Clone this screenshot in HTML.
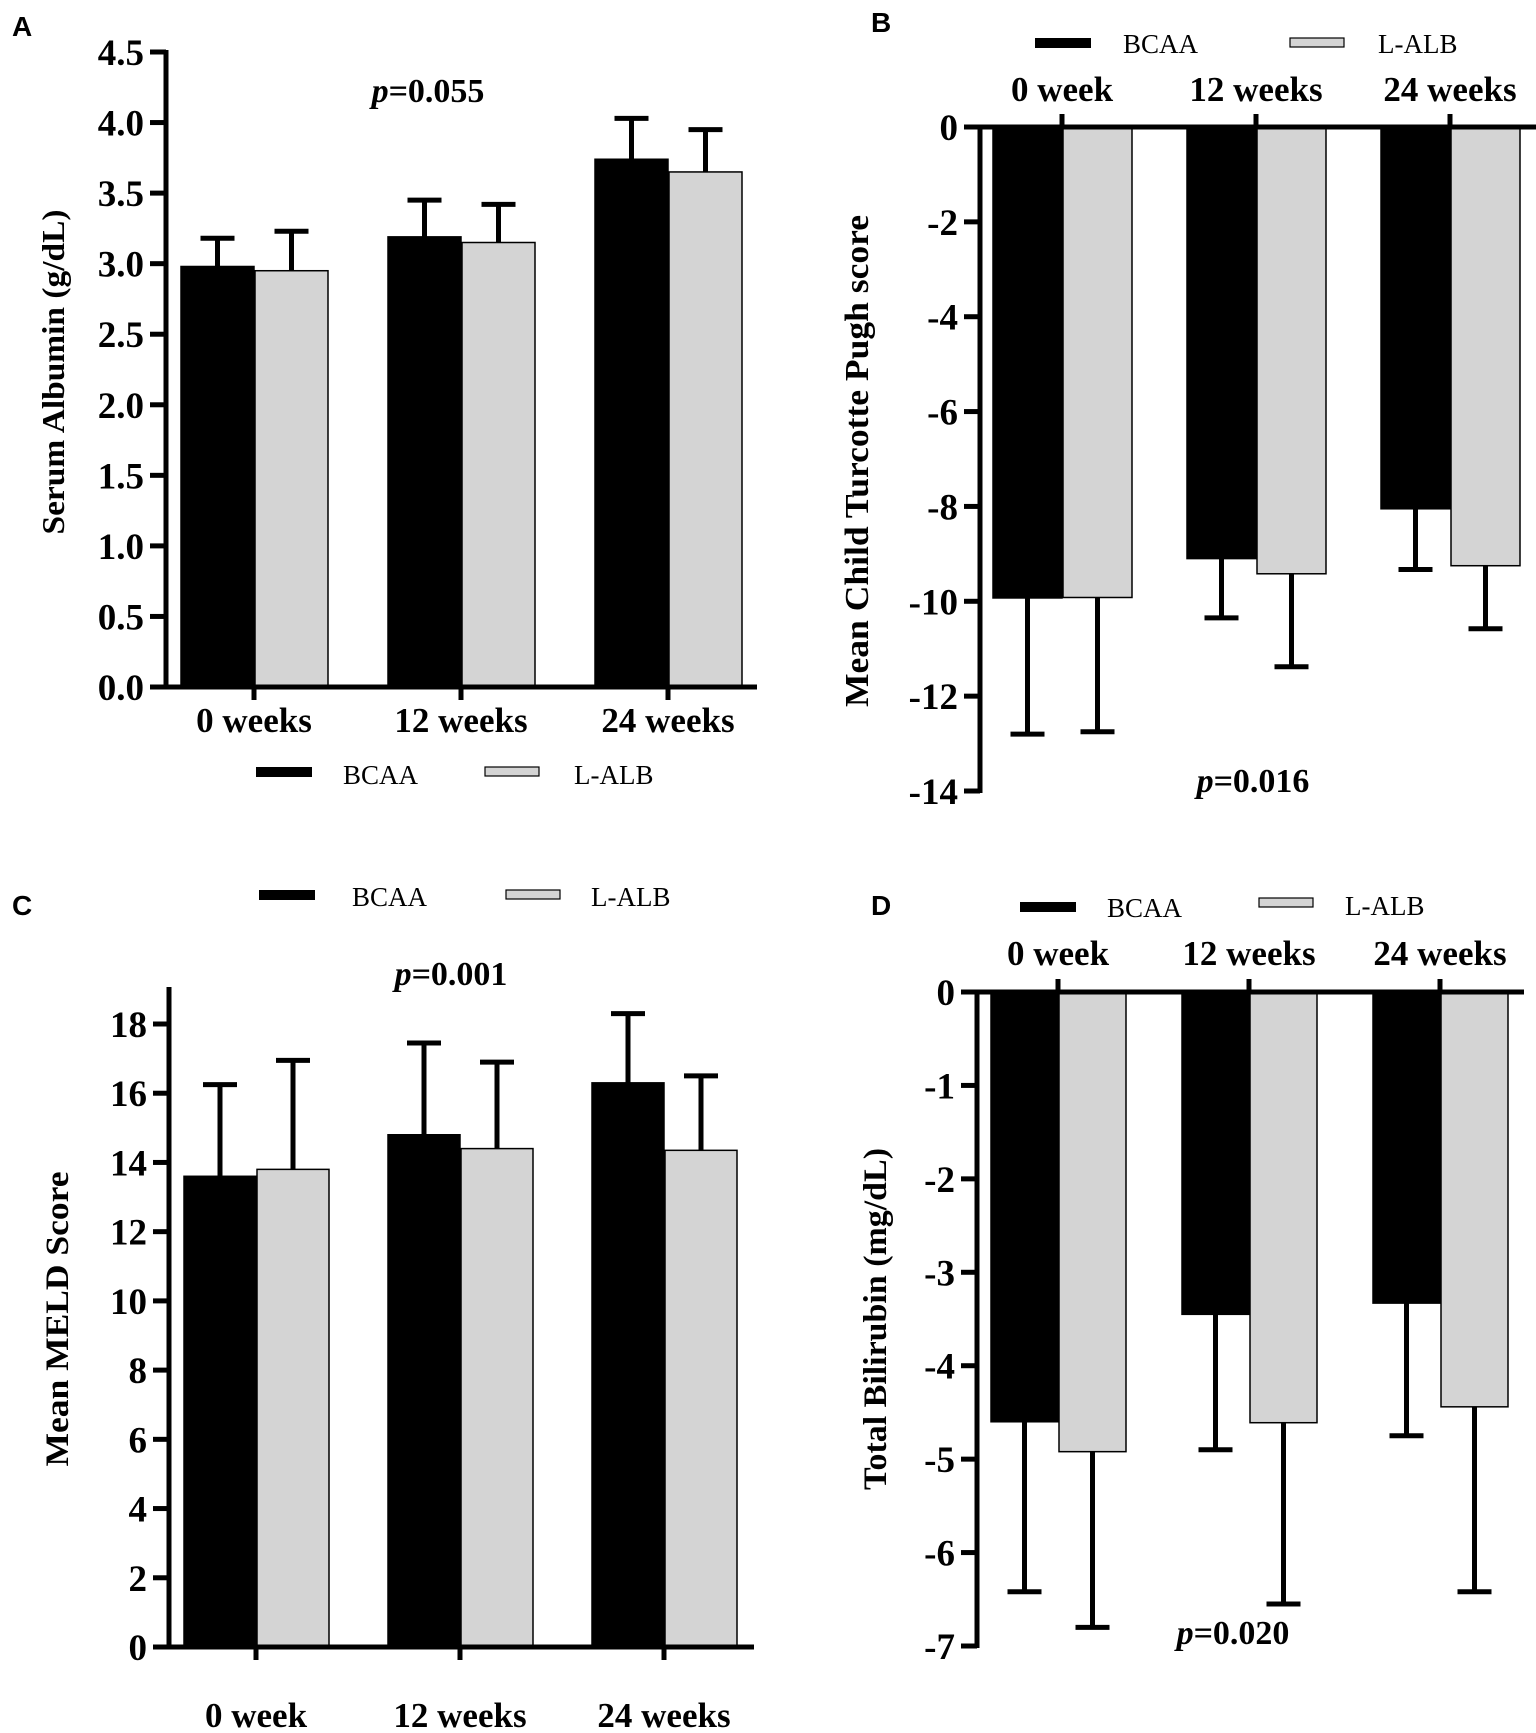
<!DOCTYPE html>
<html><head><meta charset="utf-8">
<style>
html,body{margin:0;padding:0;background:#fff;}
svg{display:block;}
text{font-family:"Liberation Serif",serif;}
.tk{font-size:37px;font-weight:bold;}
.cat{font-size:35px;font-weight:bold;}
.ttl{font-weight:bold;}
.pv{font-size:34px;font-weight:bold;}
.lg{font-size:27px;}
.pl{font-family:"Liberation Sans",sans-serif;font-size:28px;font-weight:bold;}
</style></head>
<body>
<svg id="fig" width="1536" height="1733" viewBox="0 0 1536 1733" xmlns="http://www.w3.org/2000/svg"></svg>
<script>
// ---- data ----
const categoriesA = ["0 weeks","12 weeks","24 weeks"];
const bcaaA = [2.98, 3.19, 3.74];
const bcaaErrA = [3.18, 3.45, 4.03];
const lalbA = [2.95, 3.15, 3.65];
const lalbErrA = [3.23, 3.42, 3.95];
const ticksA = [0,0.5,1,1.5,2,2.5,3,3.5,4,4.5];
const tickLabelsA = ["0.0","0.5","1.0","1.5","2.0","2.5","3.0","3.5","4.0","4.5"];

const categoriesB = ["0 week","12 weeks","24 weeks"];
const bcaaB = [-9.93, -9.1, -8.05];
const bcaaErrB = [-12.8, -10.35, -9.33];
const lalbB = [-9.92, -9.42, -9.25];
const lalbErrB = [-12.75, -11.38, -10.58];
const ticksB = [0,-2,-4,-6,-8,-10,-12,-14];
const tickLabelsB = ["0","-2","-4","-6","-8","-10","-12","-14"];

const categoriesC = ["0 week","12 weeks","24 weeks"];
const bcaaC = [13.6, 14.8, 16.3];
const bcaaErrC = [16.25, 17.45, 18.3];
const lalbC = [13.8, 14.4, 14.35];
const lalbErrC = [16.95, 16.9, 16.5];
const ticksC = [0,2,4,6,8,10,12,14,16,18];
const tickLabelsC = ["0","2","4","6","8","10","12","14","16","18"];

const categoriesD = ["0 week","12 weeks","24 weeks"];
const bcaaD = [-4.6, -3.45, -3.33];
const bcaaErrD = [-6.42, -4.9, -4.75];
const lalbD = [-4.92, -4.61, -4.44];
const lalbErrD = [-6.8, -6.55, -6.42];
const ticksD = [0,-1,-2,-3,-4,-5,-6,-7];
const tickLabelsD = ["0","-1","-2","-3","-4","-5","-6","-7"];

const NS = "http://www.w3.org/2000/svg";
const svg = document.getElementById('fig');
function mk(tag, attrs, parent, txt){
  const e = document.createElementNS(NS, tag);
  for (const k in attrs) e.setAttribute(k, attrs[k]);
  if (txt !== undefined) e.textContent = txt;
  (parent||svg).appendChild(e);
  return e;
}

function panel(p){
  const g = mk('g', {});
  
  
  const y = v => p.y0 + (v - p.v0) * (p.y1 - p.y0) / (p.v1 - p.v0);
  const xc = i => p.xc0 + i * p.step;
  p.cats.forEach((c,i)=>{
    const xb = xc(i);
    const series = [[p.bcaa,p.bcaaErr,'#000','bcaa',xb-p.bw],[p.lalb,p.lalbErr,'#d4d4d4','lalb',xb+1]];
    series.forEach(s=>{
      const v = s[0][i], ev = s[1][i];
      const top = Math.min(y(0), y(v)), h = Math.abs(y(v)-y(0));
      const cx = s[4] + p.bw/2;
      const el = mk('line', {x1:cx, x2:cx, y1:y(v), y2:y(ev), stroke:'#000','stroke-width':5}, g);
      
      
      const cap = mk('line', {x1:cx-17, x2:cx+17, y1:y(ev), y2:y(ev), stroke:'#000','stroke-width':5}, g);
      
      
      const r = mk('rect', {x:s[4], y:top, width:p.bw, height:h, fill:s[2], stroke:'#000','stroke-width':1.5}, g);
      
      
    });
  });
  const ya = mk('line', {x1:p.ax, x2:p.ax, y1:p.axTop, y2:p.axBot, stroke:'#000','stroke-width':5}, g);
  
  
  const xa = mk('line', {x1:p.xaL, x2:p.xaR, y1:y(0), y2:y(0), stroke:'#000','stroke-width':5}, g);
  
  
  p.ticks.forEach((t,i)=>{
    mk('line', {x1:p.ax-16, x2:p.ax, y1:y(t), y2:y(t), stroke:'#000','stroke-width':5}, g);
    const tl = mk('text', {x:p.ax-22, y:y(t)+13, 'text-anchor':'end', class:'tk'}, g, p.tickLabels[i]);
    
    
  });
  p.cats.forEach((c,i)=>{
    mk('line', {x1:xc(i), x2:xc(i), y1:y(0), y2:y(0)+p.tickDir*13, stroke:'#000','stroke-width':5}, g);
    const cl = mk('text', {x:xc(i), y:p.catY, 'text-anchor':'middle', class:'cat'}, g, c);
    
    
  });
  const tt = mk('text', {x:0, y:0, 'text-anchor':'middle', class:'ttl', 'font-size':p.tsize,
    transform:'translate(' + p.tx + ',' + p.ty + ') rotate(-90)', textLength:p.tlen, lengthAdjust:'spacingAndGlyphs'}, g, p.title);
  
  
  const pv = mk('text', {x:p.px, y:p.py, 'text-anchor':'middle', class:'pv'}, g);
  
  
  mk('tspan', {'font-style':'italic'}, pv, 'p');
  mk('tspan', {}, pv, '=' + p.pval);
  const pl = mk('text', {x:p.lx, y:p.ly, class:'pl'}, g, p.letter);
  
  
  const L = p.leg;
  const l1 = mk('rect', {x:L.bx, y:L.by, width:56, height:10, fill:'#000'}, g);
  
  
  const t1 = mk('text', {x:L.btx, y:L.bty, class:'lg'}, g, 'BCAA');
  
  
  const l2 = mk('rect', {x:L.gx, y:L.gy, width:54, height:9, fill:'#d4d4d4', stroke:'#000','stroke-width':1.2}, g);
  
  
  const t2 = mk('text', {x:L.gtx, y:L.gty, class:'lg'}, g, 'L-ALB');
  
  
}

panel({name:'panel-a-serum-albumin', cats:categoriesA, bcaa:bcaaA, bcaaErr:bcaaErrA, lalb:lalbA, lalbErr:lalbErrA,
  ticks:ticksA, tickLabels:tickLabelsA, v0:0, v1:4.5, y0:687, y1:52, xc0:254, step:207, bw:73,
  ax:166, axTop:50, axBot:689, xaL:150, xaR:757, tickDir:1, catY:732,
  title:'Serum Albumin (g/dL)', tsize:32, tlen:325, tx:64, ty:372, px:428, py:102, pval:'0.055',
  letter:'A', lx:12, ly:36,
  leg:{bx:256,by:767,btx:343,bty:784,gx:485,gy:767,gtx:574,gty:784}});

panel({name:'panel-b-child-pugh', cats:categoriesB, bcaa:bcaaB, bcaaErr:bcaaErrB, lalb:lalbB, lalbErr:lalbErrB,
  ticks:ticksB, tickLabels:tickLabelsB, v0:0, v1:-14, y0:127, y1:791, xc0:1062, step:194, bw:69,
  ax:980, axTop:125, axBot:793, xaL:965, xaR:1536, tickDir:-1, catY:101,
  title:'Mean Child Turcotte Pugh score', tsize:34, tlen:492, tx:868, ty:461, px:1253, py:792, pval:'0.016',
  letter:'B', lx:871, ly:32,
  leg:{bx:1035,by:38,btx:1123,bty:53,gx:1290,gy:38,gtx:1378,gty:53}});

panel({name:'panel-c-meld', cats:categoriesC, bcaa:bcaaC, bcaaErr:bcaaErrC, lalb:lalbC, lalbErr:lalbErrC,
  ticks:ticksC, tickLabels:tickLabelsC, v0:0, v1:18, y0:1647, y1:1024, xc0:256, step:204, bw:72,
  ax:169, axTop:987, axBot:1649, xaL:154, xaR:754, tickDir:1, catY:1727,
  title:'Mean MELD Score', tsize:33, tlen:295, tx:68, ty:1319, px:451, py:985, pval:'0.001',
  letter:'C', lx:12, ly:915,
  leg:{bx:259,by:890,btx:352,bty:906,gx:506,gy:890,gtx:591,gty:906}});

panel({name:'panel-d-bilirubin', cats:categoriesD, bcaa:bcaaD, bcaaErr:bcaaErrD, lalb:lalbD, lalbErr:lalbErrD,
  ticks:ticksD, tickLabels:tickLabelsD, v0:0, v1:-7, y0:992, y1:1646, xc0:1058, step:191, bw:67,
  ax:977, axTop:990, axBot:1648, xaL:962, xaR:1524, tickDir:-1, catY:965,
  title:'Total Bilirubin (mg/dL)', tsize:33, tlen:342, tx:886, ty:1319, px:1233, py:1644, pval:'0.020',
  letter:'D', lx:871, ly:915,
  leg:{bx:1020,by:902,btx:1107,bty:917,gx:1259,gy:898,gtx:1345,gty:915}});
</script>
</body></html>
